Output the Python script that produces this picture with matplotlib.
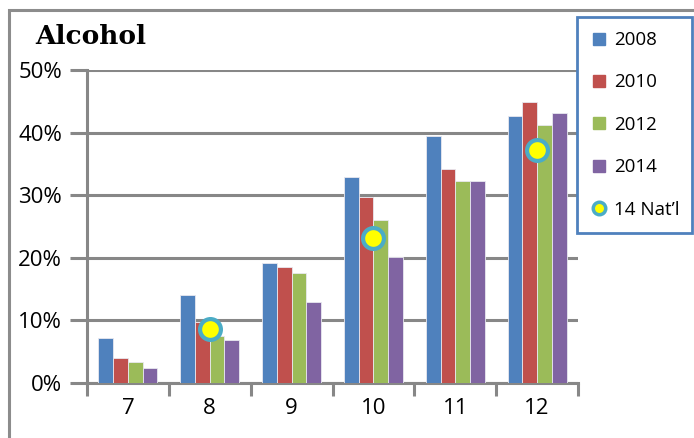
import matplotlib
matplotlib.use("Agg")
import matplotlib.pyplot as plt
from matplotlib.lines import Line2D
from matplotlib.patches import Rectangle
import numpy as np

grades = ["7", "8", "9", "10", "11", "12"]
years = ["2008", "2010", "2012", "2014"]
v2008 = [7.2, 14.1, 19.2, 32.9, 39.5, 42.7]
v2010 = [4.0, 9.7, 18.6, 29.7, 34.2, 44.9]
v2012 = [3.4, 7.5, 17.6, 26.1, 32.2, 41.2]
v2014 = [2.4, 6.9, 12.9, 20.2, 32.2, 43.1]
natl_grades = ["8", "10", "12"]
natl_vals = [8.6, 23.2, 37.2]
yticks = [0, 10, 20, 30, 40, 50]
ytick_labels = ["0%", "10%", "20%", "30%", "40%", "50%"]

colors = ["#4F81BD", "#C0504D", "#9BBB59", "#8064A2"]
grid_c = "#878787"

W, H = 694, 438
fig = plt.figure(figsize=(W / 100, H / 100), dpi=100)
plt.rcParams['font.family'] = ['Open Sans', 'DejaVu Sans']

ax = fig.add_axes([87 / W, 1 - 383 / H, (578 - 87) / W, (383 - 70) / H])

x = np.arange(len(grades))
bw = 0.18
series = [v2008, v2010, v2012, v2014]
for i, (vals, c) in enumerate(zip(series, colors)):
    ax.bar(x + (i - 1.5) * bw, vals, width=bw, color=c, edgecolor="#e8e8f0",
           linewidth=0.6, zorder=3)

nx = [grades.index(g) for g in natl_grades]
ax.plot(nx, natl_vals, linestyle="none", marker="o", markersize=15,
        markerfacecolor="#FFFF00", markeredgecolor="#4BACC6",
        markeredgewidth=3, zorder=5)

ax.set_xlim(-0.5, len(grades) - 0.5)
ax.set_ylim(0, 50)
ax.set_yticks(yticks)
ax.set_yticklabels(ytick_labels, fontsize=16)
ax.yaxis.grid(True, color=grid_c, linewidth=2.2, zorder=0)
ax.set_axisbelow(True)
ax.tick_params(axis="y", length=12, width=2.2, color=grid_c, pad=6)

ax.set_xticks(np.arange(len(grades) + 1) - 0.5)
ax.set_xticklabels([])
ax.set_xticks(x, minor=True)
ax.set_xticklabels(grades, minor=True, fontsize=16)
ax.tick_params(axis="x", which="major", length=9, width=2.2, color=grid_c)
ax.tick_params(axis="x", which="minor", length=0, pad=11)

for s in ["top", "right"]:
    ax.spines[s].set_visible(False)
for s in ["left", "bottom"]:
    ax.spines[s].set_color(grid_c)
    ax.spines[s].set_linewidth(2.2)

# outer chart frame
fig.patches.append(Rectangle((9 / W, -0.1), 1.2, 1 - 10 / H + 0.1,
                             transform=fig.transFigure, fill=False,
                             edgecolor="#8c8c8c", linewidth=2.2))

fig.text(35 / W, 1 - 37 / H, "Alcohol", fontsize=19, fontweight="bold",
         family="DejaVu Serif", va="center", ha="left")

handles = [Line2D([], [], linestyle="none", marker="s", markersize=8,
                  markerfacecolor=c, markeredgecolor=c) for c in colors]
handles.append(Line2D([], [], linestyle="none", marker="o", markersize=9,
                      markerfacecolor="#FFFF00", markeredgecolor="#4BACC6",
                      markeredgewidth=2.5))
labels = years + ["14 Nat\u2019l"]
leg = fig.legend(handles, labels, loc="upper left",
                 bbox_to_anchor=(577 / W, 1 - 235 / H, 115 / W, 218 / H),
                 mode="expand", fontsize=13.5,
                 frameon=True, fancybox=False, labelspacing=1.3,
                 handlelength=0.8, handletextpad=0.45, borderpad=0.75,
                 borderaxespad=0)
fr = leg.get_frame()
fr.set_edgecolor("#4F81BD")
fr.set_linewidth(2)
fr.set_facecolor("white")
fr.set_alpha(1)

fig.savefig("out.png", dpi=100)
